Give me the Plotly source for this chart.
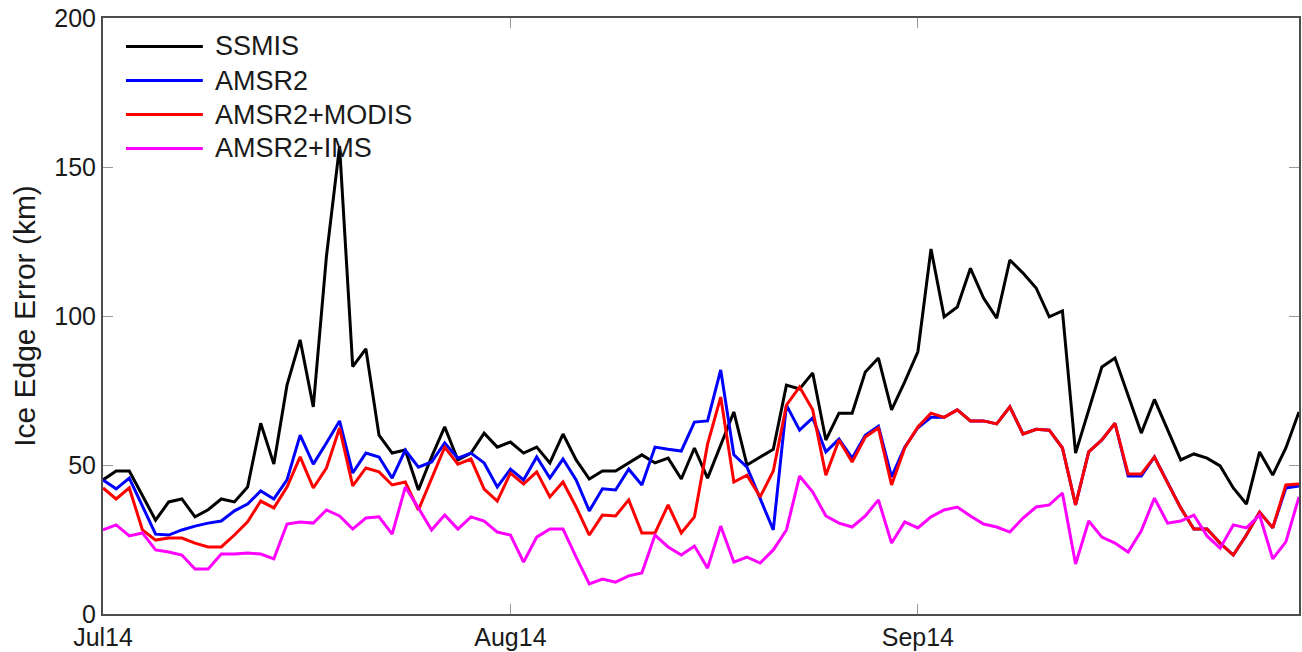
import pandas as pd
import plotly.graph_objects as go

dates = pd.date_range("2014-07-01", periods=92, freq="D")

ssmis = [45, 48, 48, 40, 31.5, 37.6, 38.6, 32.6, 35, 38.6, 37.6, 42.6, 64, 50.3, 76.8, 92,
         69.5, 120, 157, 83, 89, 60, 54, 55, 41.6, 52.7, 62.8, 51.7, 54, 60.7, 56,
         57.7, 54, 56, 50.7, 60.4, 51.7, 45.3, 48, 48, 50.7, 53.4, 50.7, 52.3, 45.3, 55.7, 45.6,
         57, 67.8, 50, 52.7, 55.3, 76.8, 75.5, 80.9, 58.4, 67.4, 67.4, 81.2, 85.9, 68.5, 77.9,
         88, 122.5, 99.7, 103, 116, 106, 99.3, 118.8, 114.4, 109.4, 99.7, 101.7, 54, 68.5, 82.9,
         85.9, 73, 60.7, 72, 61.7, 51.7, 53.7, 52.3, 49.7, 42.3, 36.9, 54.4, 46.6, 55.7, 67.8]

amsr2 = [45, 42, 45.6, 36, 26.8, 26.5, 28.2, 29.5, 30.5, 31.2, 34.6, 36.9, 41.3, 38.6, 45, 60,
         50.3, 57.4, 64.8, 47.3, 54, 52.7, 45.6, 55, 49.3, 51, 57.4, 52.3, 54, 50.7, 42.6,
         48.6, 45, 52.7, 45.6, 52, 45, 34.6, 42, 41.6, 48.6, 43.3, 56, 55.3, 54.7, 64.4, 64.8,
         81.9, 53.4, 49.3, 38.9, 28.2, 70.1, 61.7, 65.8, 54.4, 58.7, 52.3, 60, 63, 46, 56,
         62.5, 66, 66, 68.5, 64.8, 64.8, 63.8, 69.5, 60.4, 62, 61.7, 55.7, 36.6, 54.4, 58.4,
         64, 46.3, 46.3, 52.7, 44, 35.6, 28.5, 28.5, 23.8, 19.8, 26.5, 34.2, 28.9, 42.3, 43]

amsr2_modis = [42.3, 38.6, 42.3, 28.2, 24.8, 25.5, 25.5, 23.8, 22.5, 22.5, 26.5, 30.9, 37.9, 35.6, 42.6, 52.7,
               42.3, 49, 62.4, 43, 49, 47.7, 43.3, 44.3, 34.9, 45.6, 56, 50.3, 52, 41.9, 37.9,
               47.3, 43.6, 47.7, 39.3, 44.3, 35.9, 26.5, 33.2, 32.9, 38.3, 27.2, 27.2, 36.6, 27.2, 32.6, 57,
               72.8, 44.3, 46.6, 39.3, 48, 70.1, 76.2, 68.5, 46.6, 58.4, 51, 59.4, 62.4, 43.3, 55.7,
               62.8, 67.4, 66, 68.5, 64.8, 64.8, 63.8, 69.5, 60.4, 62, 61.7, 55.7, 36.6, 54.4, 58.4,
               64, 47, 47, 52.7, 44, 35.6, 28.5, 28.5, 23.8, 19.8, 26.5, 34.2, 28.9, 43.3, 43.6]

amsr2_ims = [28.2, 29.9, 26.2, 27.2, 21.5, 20.8, 19.8, 15.1, 15.1, 20.1, 20.1, 20.5, 20.1, 18.5, 30.2, 30.9,
             30.5, 34.9, 32.9, 28.5, 32.2, 32.6, 26.8, 42.6, 35.6, 28.2, 33.2, 28.5, 32.6, 31.2, 27.5,
             26.5, 17.4, 25.8, 28.5, 28.5, 19.1, 10.1, 11.7, 10.7, 12.8, 13.8, 26.5, 22.5, 19.8, 22.8, 15.4,
             29.5, 17.4, 19.1, 17.1, 21.5, 28.2, 46.3, 40.9, 32.9, 30.5, 29.2, 32.9, 38.3, 23.8, 30.9,
             28.9, 32.6, 34.9, 35.9, 32.9, 30.2, 29.2, 27.5, 32.2, 35.9, 36.6, 40.6, 16.8, 31.2, 25.8,
             23.8, 20.8, 27.9, 38.9, 30.5, 31.2, 33.2, 26.2, 22.1, 29.9, 28.9, 33.2, 18.5, 24.2, 39.3]

series_names = ["SSMIS", "AMSR2", "AMSR2+MODIS", "AMSR2+IMS"]
series_values = [ssmis, amsr2, amsr2_modis, amsr2_ims]
series_colors = ["#000000", "#0000FF", "#FF0000", "#FF00FF"]

x_tickvals = ["2014-07-01", "2014-08-01", "2014-09-01"]
x_ticktext = ["Jul14", "Aug14", "Sep14"]
y_tickvals = [0, 50, 100, 150, 200]

FONT = "Liberation Sans, Arial, Helvetica, sans-serif"
TXT = "#1a1a1a"

fig = go.Figure()
for name, vals, col in zip(series_names, series_values, series_colors):
    fig.add_trace(go.Scatter(x=dates, y=vals, mode="lines", name=name,
                             line=dict(color=col, width=3), showlegend=False))

# Legend drawn in the MATLAB style (long line samples, tight rows) in paper coordinates
W, H = 1198.0, 596.0          # plot-area size in px
leg_x0, leg_x1, leg_tx = 23 / W, 100 / W, 110 / W
row0, row_step = 28.5, 34.0   # px from top of plot area
for i, (name, col) in enumerate(zip(series_names, series_colors)):
    yy = 1 - (row0 + i * row_step) / H
    fig.add_shape(type="line", xref="paper", yref="paper", x0=leg_x0, x1=leg_x1, y0=yy, y1=yy,
                  line=dict(color=col, width=3))
    fig.add_annotation(xref="paper", yref="paper", x=leg_tx, y=yy, xanchor="left", yanchor="middle",
                       text=name, showarrow=False, font=dict(family=FONT, size=27, color=TXT))

axis_common = dict(showline=True, linecolor="#4d4d4d", linewidth=2, mirror="ticks",
                   ticks="inside", ticklen=10, tickwidth=1, tickcolor="#9a9a9a",
                   showgrid=False, zeroline=False,
                   tickfont=dict(family=FONT, size=25, color=TXT))

fig.update_xaxes(type="date", range=["2014-07-01", "2014-09-30"],
                 tickvals=x_tickvals, ticktext=x_ticktext, **axis_common)
fig.update_yaxes(range=[0, 200], tickvals=y_tickvals,
                 title=dict(text="Ice Edge Error (km)", font=dict(family=FONT, size=30, color=TXT),
                            standoff=10),
                 **axis_common)

fig.update_layout(
    width=1302, height=652,
    margin=dict(l=103, r=1, t=18, b=38),
    plot_bgcolor="white", paper_bgcolor="white",
    font=dict(family=FONT, color=TXT),
    showlegend=False,
)

fig.write_html("out.html", config={"displayModeBar": False},
               post_script="document.body.style.margin='0';")
